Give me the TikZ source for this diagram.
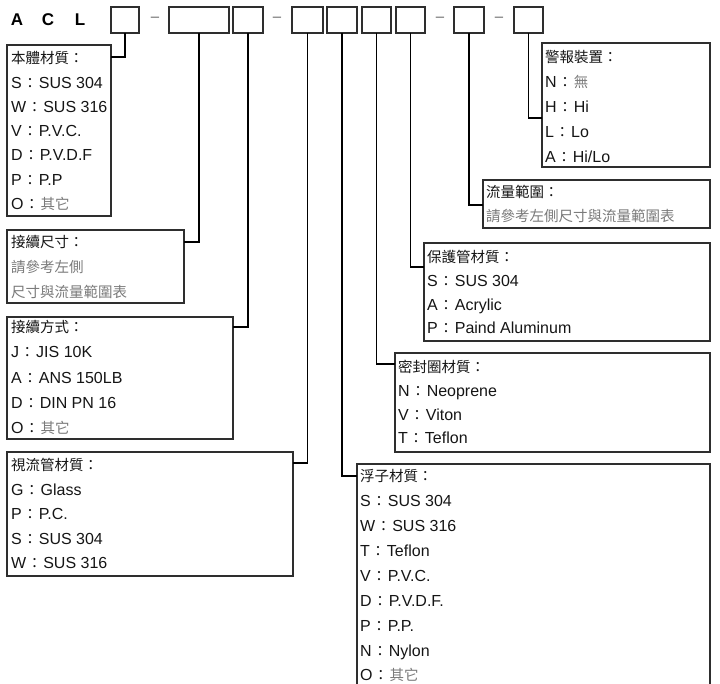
\documentclass[tikz,border=0pt]{standalone}
\usepackage{fontspec}
\setmainfont{Liberation Sans}
\newfontfamily\cjk{Noto Sans CJK TC}
\usepackage{tikz}
\definecolor{txt}{HTML}{151515}
\definecolor{txtgray}{HTML}{7A7A7A}
\definecolor{frame}{HTML}{2E2E2E}
\newcommand{\zh}[1]{{\cjk\fontsize{14.5}{14.5}\selectfont #1}}
\newcommand{\hd}[1]{\zh{#1}}
\newcommand{\gr}[1]{{\color{txtgray}\zh{#1}}}
\newcommand{\fwc}{\kern1pt\zh{：}\kern1.5pt}
\tikzstyle{edge}=[
	-,
	draw=black,
	line width=1.3pt
]
\tikzstyle{code}=[
	draw=frame,
	line width=1.3pt,
	minimum height=26pt,
	inner sep=0pt,
	outer sep=0pt
]
\tikzstyle{legend}=[
	code,
	minimum height=0pt,
	anchor=north west
]
\tikzstyle{item}=[
	anchor=west,
	inner sep=0pt,
	text height=11.5pt,
	text depth=0pt,
	text=txt,
	font=\fontsize{16}{16}\selectfont
]

\begin{document}
\begin{tikzpicture}[x=1pt, y=-1pt, title/.style={inner sep=0pt, font=\fontsize{17}{17}\selectfont\bfseries},
                    hyph/.style={inner sep=0pt, text=black!60, font=\fontsize{15}{15}\selectfont}]
\useasboundingbox (0,0) rectangle (720,684);
\clip (0,0) rectangle (720,684);

\foreach \x/\l in {17/A, 48/C, 80/L}{
    \node[title] (t\l) at (\x, 20) {\l};
}

\foreach \x/\w [count=\i] in {125/28, 199/60, 248/30, 307.5/31, 342/30, 376.5/29, 410.5/29, 469/30, 528.5/29}{
    \node[code, minimum width=\w pt] (c\i) at (\x, 20) {};
}

\foreach \x [count=\i] in {155, 277, 440, 499}{
    \node[hyph] (d\i) at (\x, 19) {\textendash};
}

% legend boxes
\node[legend, minimum width=104pt, minimum height=171pt] (m1) at (7, 45) {};
\node[legend, minimum width=177pt, minimum height=73pt] (m2) at (7, 230) {};
\node[legend, minimum width=226pt, minimum height=122pt] (m3) at (7, 317) {};
\node[legend, minimum width=286pt, minimum height=124pt] (m4) at (7, 452) {};
\node[legend, minimum width=353pt, minimum height=240pt] (m5) at (357, 464) {};
\node[legend, minimum width=315pt, minimum height=99pt] (m6) at (395, 353) {};
\node[legend, minimum width=286pt, minimum height=98pt] (m7) at (424, 243) {};
\node[legend, minimum width=227pt, minimum height=48pt] (m8) at (483, 180) {};
\node[legend, minimum width=168pt, minimum height=124pt] (m9) at (542, 43) {};

\foreach \i/\s/\d in {1/east/12, 2/east/12, 3/east/10, 4/east/11, 5/west/12, 6/west/11, 7/west/24, 8/west/25, 9/west/75}{
    \draw[edge] (c\i.south) |- ([yshift=-\d pt]m\i.north \s);
}

% texts
\foreach \t [count=\i] in {\hd{本體材質：}, S\fwc SUS 304, W\fwc SUS 316, V\fwc P.V.C., D\fwc P.V.D.F, P\fwc P.P, O\fwc\gr{其它}}{
    \node[item] (m1-\i) at (11, {58+24.3*(\i-1)}) {\t};
}
\foreach \t [count=\i] in {\hd{接續尺寸：}, \gr{請參考左側}, \gr{尺寸與流量範圍表}}{
    \node[item] (m2-\i) at (11, {242+25*(\i-1)}) {\t};
}
\foreach \t [count=\i] in {\hd{接續方式：}, J\fwc JIS 10K, A\fwc ANS 150LB, D\fwc DIN PN 16, O\fwc\gr{其它}}{
    \node[item] (m3-\i) at (11, {327+25.2*(\i-1)}) {\t};
}
\foreach \t [count=\i] in {\hd{視流管材質：}, G\fwc Glass, P\fwc P.C., S\fwc SUS 304, W\fwc SUS 316}{
    \node[item] (m4-\i) at (11, {465+24.5*(\i-1)}) {\t};
}
\foreach \t [count=\i] in {\hd{浮子材質：}, S\fwc SUS 304, W\fwc SUS 316, T\fwc Teflon, V\fwc P.V.C., D\fwc P.V.D.F., P\fwc P.P., N\fwc Nylon, O\fwc\gr{其它}}{
    \node[item] (m5-\i) at (360, {476+24.9*(\i-1)}) {\t};
}
\foreach \t [count=\i] in {\hd{密封圈材質：}, N\fwc Neoprene, V\fwc Viton, T\fwc Teflon}{
    \node[item] (m6-\i) at (398, {367+23.7*(\i-1)}) {\t};
}
\foreach \t [count=\i] in {\hd{保護管材質：}, S\fwc SUS 304, A\fwc Acrylic, P\fwc Paind Aluminum}{
    \node[item] (m7-\i) at (427, {257+23.7*(\i-1)}) {\t};
}
\foreach \t [count=\i] in {\hd{流量範圍：}, \gr{請參考左側尺寸與流量範圍表}}{
    \node[item] (m8-\i) at (486, {192+24*(\i-1)}) {\t};
}
\foreach \t [count=\i] in {\hd{警報裝置：}, N\fwc\gr{無}, H\fwc Hi, L\fwc Lo, A\fwc Hi/Lo}{
    \node[item] (m9-\i) at (545, {57+25*(\i-1)}) {\t};
}

\end{tikzpicture}
\end{document}
